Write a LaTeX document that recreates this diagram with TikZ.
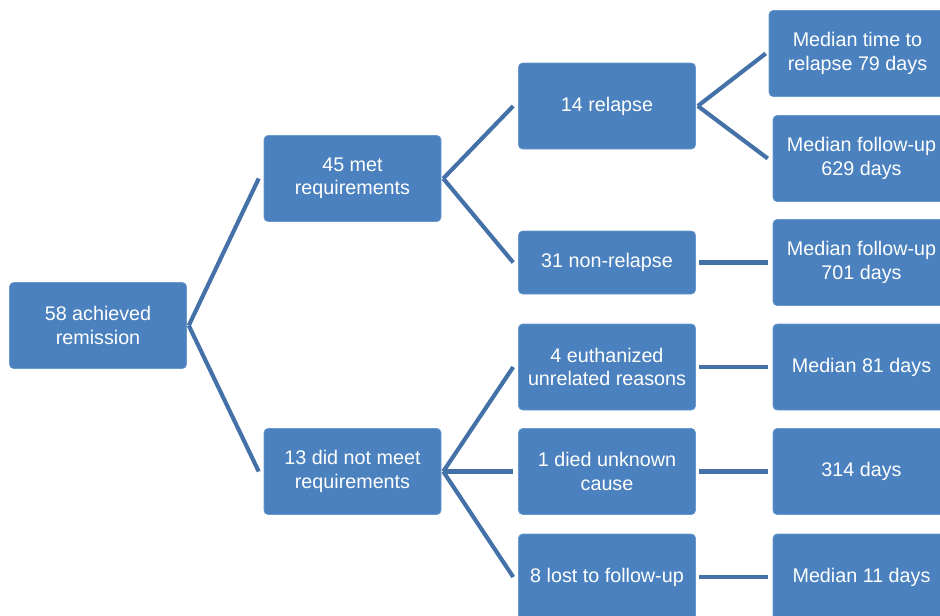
\documentclass[tikz,border=0pt]{standalone}
\usepackage{fontspec}
\setmainfont{Liberation Sans}
\usetikzlibrary{calc}
\definecolor{boxblue}{HTML}{4A81BE}
\definecolor{boxedge}{HTML}{6A98CE}
\definecolor{linkblue}{HTML}{4571A9}
\tikzset{
  box/.style={rectangle, rounded corners=3pt, fill=boxblue, draw=boxedge, line width=0.4pt,
    minimum width=132.75pt, minimum height=64.5pt, inner sep=0pt,
    align=center, text=white, font=\fontsize{14.8}{17.6}\selectfont},
  shortbox/.style={box, minimum height=47.25pt},
  link/.style={draw=linkblue, line width=3.1pt}
}
\begin{document}
\begin{tikzpicture}[x=0.75pt,y=-0.75pt]
\useasboundingbox (0,0) rectangle (940,615);
\clip (0,0) rectangle (940,615);
\node[box] (root) at (98,325.5) {58 achieved\\remission};
\node[box] (met) at (352.5,178.5) {45 met\\requirements};
\node[box] (notmet) at (352.5,471.5) {13 did not meet\\requirements};
\node[box] (relapse) at (607,106) {14 relapse};
\node[shortbox] (nonrel) at (607,262.5) {31 non-relapse};
\node[box] (euth) at (607,367) {4 euthanized\\unrelated reasons};
\node[box] (died) at (607,471.5) {1 died unknown\\cause};
\node[box] (lost) at (607,577) {8 lost to follow-up};
\node[box] (ttr) at (857.5,53.5) {Median time to\\relapse 79 days};
\node[box] (fu629) at (861.5,158.5) {Median follow-up\\629 days};
\node[box] (fu701) at (861.5,262.5) {Median follow-up\\701 days};
\node[box] (m81) at (861.5,367) {Median 81 days};
\node[box] (d314) at (861.5,471.5) {314 days};
\node[box] (m11) at (861.5,577) {Median 11 days};
\draw[link] ($(root.east)+(2,0)$) -- ($(met.west)+(-5,0)$);
\draw[link] ($(root.east)+(2,0)$) -- ($(notmet.west)+(-5,0)$);
\draw[link] ($(met.east)+(2,0)$) -- ($(relapse.west)+(-5,0)$);
\draw[link] ($(met.east)+(2,0)$) -- ($(nonrel.west)+(-5,0)$);
\draw[link] ($(notmet.east)+(2,0)$) -- ($(euth.west)+(-5,0)$);
\draw[link] ($(notmet.east)+(2,0)$) -- ($(died.west)+(-5,0)$);
\draw[link] ($(notmet.east)+(2,0)$) -- ($(lost.west)+(-5,0)$);
\draw[link] ($(relapse.east)+(2,0)$) -- ($(ttr.west)+(-3,0)$);
\draw[link] ($(relapse.east)+(2,0)$) -- ($(fu629.west)+(-5,0)$);
\draw[link] ($(nonrel.east)+(3,0)$) -- ($(fu701.west)+(-5,0)$);
\draw[link] ($(euth.east)+(3,0)$) -- ($(m81.west)+(-5,0)$);
\draw[link] ($(died.east)+(3,0)$) -- ($(d314.west)+(-5,0)$);
\draw[link] ($(lost.east)+(3,0)$) -- ($(m11.west)+(-5,0)$);
\end{tikzpicture}
\end{document}
